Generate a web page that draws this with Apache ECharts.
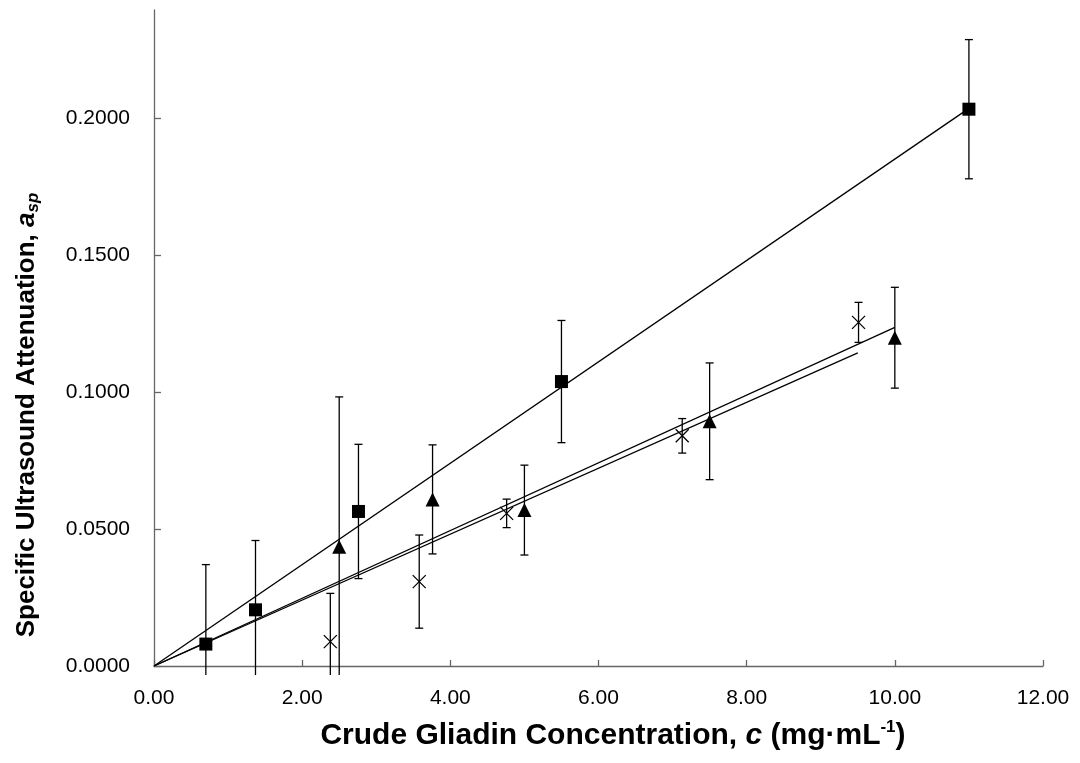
<!DOCTYPE html>
<html>
<head>
<meta charset="utf-8">
<script src="https://cdn.jsdelivr.net/npm/echarts@6/dist/echarts.min.js"></script>
<style>
  html, body { margin: 0; padding: 0; background: #fff; }
  #chart { width: 1080px; height: 763px; }
</style>
</head>
<body>
<div id="chart"></div>
<script>
// ---- Data ----
const xTicks = [0, 2, 4, 6, 8, 10, 12];
const yTicks = [0, 0.05, 0.10, 0.15, 0.20];

// Series 1: filled squares
const squareX   = [0.70, 1.37, 2.76, 5.50, 11.00];
const squareY   = [0.0080, 0.0205, 0.0564, 0.1038, 0.2032];
const squareErr = [0.0290, 0.0253, 0.0245, 0.0223, 0.0254];

// Series 2: filled triangles
const triX   = [2.50, 3.76, 5.00, 7.50, 10.00];
const triY   = [0.0435, 0.0608, 0.0569, 0.0893, 0.1198];
const triErr = [0.0547, 0.0199, 0.0164, 0.0213, 0.0184];

// Series 3: crosses
const crossX   = [2.38, 3.58, 4.76, 7.13, 9.51];
const crossY   = [0.0089, 0.0308, 0.0557, 0.0840, 0.1254];
const crossErr = [0.0176, 0.0170, 0.0052, 0.0063, 0.0073];

// Linear trend lines (through origin), endpoints
const squareTrend = [[0, 0], [11.0, 0.2035]];
const triTrend    = [[0, 0], [10.0, 0.1236]];
const crossTrend  = [[0, 0], [9.5, 0.1143]];

// lowest value at which error bars are cut (bottom of plot area)
const ERR_FLOOR = -0.0033;

const font = '"Liberation Sans", Arial, sans-serif';

function pts(xs, ys) { return xs.map((x, i) => [x, ys[i]]); }
function errData(xs, ys, es) { return xs.map((x, i) => [x, ys[i], es[i]]); }

function errRender(params, api) {
  const x = api.value(0), y = api.value(1), e = api.value(2);
  const top = api.coord([x, y + e]);
  const bot = api.coord([x, Math.max(y - e, ERR_FLOOR)]);
  const cap = 4;
  const children = [
    { type: 'line', shape: { x1: top[0], y1: top[1], x2: bot[0], y2: bot[1] },
      style: { stroke: '#000', lineWidth: 1.3 } },
    { type: 'line', shape: { x1: top[0] - cap, y1: top[1], x2: top[0] + cap, y2: top[1] },
      style: { stroke: '#000', lineWidth: 1.3 } }
  ];
  if (y - e >= ERR_FLOOR) {
    children.push({ type: 'line', shape: { x1: bot[0] - cap, y1: bot[1], x2: bot[0] + cap, y2: bot[1] },
      style: { stroke: '#000', lineWidth: 1.3 } });
  }
  return { type: 'group', children };
}

function errSeries(xs, ys, es) {
  return { type: 'custom', renderItem: errRender, data: errData(xs, ys, es),
           clip: false, z: 2, silent: true, encode: { x: 0, y: 1 } };
}
function trendSeries(d) {
  return { type: 'line', data: d, symbol: 'none', z: 3, silent: true,
           lineStyle: { color: '#000', width: 1.3 } };
}

const chart = echarts.init(document.getElementById('chart'), null, { renderer: 'canvas' });
chart.setOption({
  animation: false,
  backgroundColor: '#fff',
  grid: { left: 154, right: 37, top: 10, bottom: 97 },
  xAxis: {
    type: 'value', min: 0, max: 12, interval: 2,
    axisLine: { onZero: false, lineStyle: { color: '#666', width: 1.3 } },
    axisTick: { inside: true, length: 6, lineStyle: { color: '#666', width: 1.3 } },
    splitLine: { show: false },
    axisLabel: { color: '#000', fontFamily: font, fontSize: 21, margin: 22,
                 formatter: v => v.toFixed(2) },
    name: '{b|Crude Gliadin Concentration, }{bi|c}{b| (mg·mL}{sup|-1}{b|)}',
    nameLocation: 'middle', nameGap: 53,
    nameTextStyle: {
      padding: [0, 0, 0, 29],
      rich: {
        b:   { fontFamily: font, fontSize: 30, fontWeight: 'bold', color: '#000', lineHeight: 34 },
        bi:  { fontFamily: font, fontSize: 30, fontWeight: 'bold', fontStyle: 'italic', color: '#000', lineHeight: 34 },
        sup: { fontFamily: font, fontSize: 17, fontWeight: 'bold', color: '#000', verticalAlign: 'top', lineHeight: 17 }
      }
    }
  },
  yAxis: {
    type: 'value', min: 0, max: 0.2394,
    axisLine: { lineStyle: { color: '#666', width: 1.3 } },
    axisTick: { inside: true, length: 7, customValues: yTicks, lineStyle: { color: '#666', width: 1.3 } },
    splitLine: { show: false },
    axisLabel: { color: '#000', fontFamily: font, fontSize: 21, margin: 24, customValues: yTicks,
                 formatter: v => v.toFixed(4) },
    name: '{b|Specific Ultrasound Attenuation, }{bi|a}{sub|sp}',
    nameLocation: 'middle', nameGap: 112,
    nameTextStyle: {
      padding: [0, 154, 0, 0],
      rich: {
        b:   { fontFamily: font, fontSize: 26, fontWeight: 'bold', color: '#000', lineHeight: 30 },
        bi:  { fontFamily: font, fontSize: 26, fontWeight: 'bold', fontStyle: 'italic', color: '#000', lineHeight: 30 },
        sub: { fontFamily: font, fontSize: 17, fontWeight: 'bold', fontStyle: 'italic', color: '#000',
               verticalAlign: 'bottom', lineHeight: 17, padding: [12, 0, 0, 0] }
      }
    }
  },
  series: [
    errSeries(squareX, squareY, squareErr),
    errSeries(triX, triY, triErr),
    errSeries(crossX, crossY, crossErr),
    trendSeries(squareTrend),
    trendSeries(triTrend),
    trendSeries(crossTrend),
    { type: 'scatter', data: pts(squareX, squareY), symbol: 'rect', symbolSize: 13, z: 4,
      itemStyle: { color: '#000', opacity: 1 } },
    { type: 'scatter', data: pts(triX, triY), symbol: 'triangle', symbolSize: 14, z: 4,
      itemStyle: { color: '#000', opacity: 1 } },
    { type: 'scatter', data: pts(crossX, crossY), symbol: 'path://M0,0L10,10M10,0L0,10', symbolSize: 13, z: 4,
      itemStyle: { color: 'none', borderColor: '#000', borderWidth: 1.3, opacity: 1 } }
  ]
});
</script>
</body>
</html>
